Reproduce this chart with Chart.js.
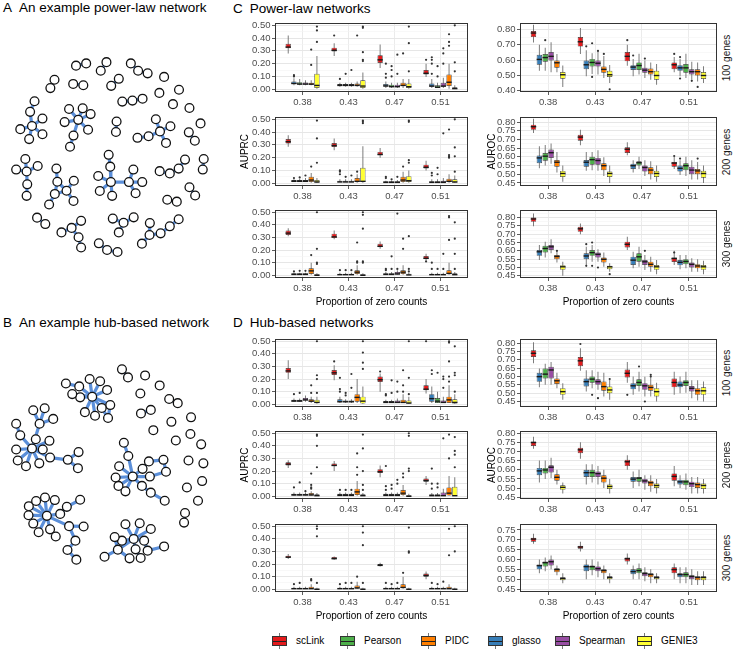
<!DOCTYPE html>
<html>
<head>
<meta charset="utf-8">
<script src="https://cdn.jsdelivr.net/npm/chart.js@4.4.1/dist/chart.umd.min.js"></script>
<style>
  body { margin: 0; background: #fff; font-family: "Liberation Sans", Arial, Helvetica, sans-serif; }
  #page { position: relative; width: 734px; height: 651px; overflow: hidden; }
  #page canvas { position: absolute; }
  .title { position: absolute; font-size: 13.5px; line-height: 16px; color: #000; white-space: nowrap; }
  .title span { margin-right: 7px; }
  .strip { position: absolute; width: 80px; height: 12px; line-height: 12px; font-size: 10px; text-align: center;
           transform: rotate(-90deg); white-space: nowrap; color: #1a1a1a; }
  .lk { position: absolute; top: 633px; width: 15px; height: 16px; }
  .lk::before { content: ""; position: absolute; left: 7px; top: 0; width: 1px; height: 16px; background: #777; }
  .lk i { position: absolute; left: 0; top: 3px; width: 13px; height: 8px; border: 1px solid #333; }
  .lk i::after { content: ""; position: absolute; left: 0; right: 0; top: 3.5px; height: 1px; background: #222; }
  .lt { position: absolute; top: 635px; font-size: 10px; line-height: 12px; color: #000; white-space: nowrap; }
</style>
</head>
<body>
<div id="page">
  <div class="title" style="left:3px;top:0px"><span>A</span>An example power-law network</div>
  <div class="title" style="left:3px;top:315px"><span>B</span>An example hub-based network</div>
  <div class="title" style="left:233px;top:1px"><span>C</span>Power-law networks</div>
  <div class="title" style="left:233px;top:315px"><span>D</span>Hub-based networks</div>
</div>
<script>
// methods in the order the boxes are dodged inside each group
const methods = ["scLink", "glasso", "Pearson", "Spearman", "PIDC", "GENIE3"];
const methodColors = ["#E41A1C", "#377EB8", "#4DAF4A", "#984EA3", "#FF7F00", "#FFFF33"];
const legendOrder = ["scLink", "Pearson", "PIDC", "glasso", "Spearman", "GENIE3"];
const zeroProps = ["0.38", "0.43", "0.47", "0.51"];

const prcTicks = [0, 0.1, 0.2, 0.3, 0.4, 0.5];
const rocTicksWide = [0.4, 0.5, 0.6, 0.7, 0.8];
const rocTicks = [0.45, 0.5, 0.55, 0.6, 0.65, 0.7, 0.75, 0.8];
const rocTicksShort = [0.45, 0.5, 0.55, 0.6, 0.65, 0.7, 0.75];

// one row per (proportion, method): [lower whisker, q1, median, q3, upper whisker]
// outliers: [proportion index, method index, value]

// C, 100 genes, AUPRC
const cPrc100 = [
  [0.28, 0.32, 0.335, 0.355, 0.42], [0.03, 0.04, 0.05, 0.06, 0.085], [0.03, 0.04, 0.045, 0.055, 0.08],
  [0.03, 0.038, 0.045, 0.052, 0.07], [0.03, 0.035, 0.045, 0.05, 0.07], [0.0, 0.01, 0.035, 0.12, 0.26],
  [0.26, 0.295, 0.31, 0.325, 0.36], [0.02, 0.03, 0.035, 0.04, 0.05], [0.02, 0.03, 0.035, 0.04, 0.05],
  [0.02, 0.03, 0.035, 0.04, 0.05], [0.02, 0.03, 0.035, 0.045, 0.06], [0.0, 0.01, 0.03, 0.07, 0.13],
  [0.165, 0.205, 0.235, 0.265, 0.35], [0.01, 0.025, 0.03, 0.04, 0.06], [0.01, 0.02, 0.025, 0.035, 0.05],
  [0.01, 0.02, 0.025, 0.035, 0.05], [0.01, 0.025, 0.035, 0.05, 0.08], [0.0, 0.01, 0.025, 0.045, 0.08],
  [0.095, 0.115, 0.13, 0.15, 0.2], [0.01, 0.02, 0.03, 0.045, 0.08], [0.01, 0.015, 0.02, 0.03, 0.05],
  [0.01, 0.02, 0.03, 0.05, 0.09], [0.0, 0.025, 0.06, 0.115, 0.2], [0.0, 0.005, 0.01, 0.015, 0.03]
];
const cPrc100Out = [
  [0, 1, 0.11], [0, 1, 0.1], [0, 4, 0.31], [0, 4, 0.19], [0, 5, 0.37], [0, 5, 0.46], [0, 5, 0.49],
  [1, 0, 0.42], [1, 1, 0.08], [1, 2, 0.12], [1, 3, 0.15], [1, 4, 0.42], [1, 5, 0.22], [1, 5, 0.23],
  [1, 5, 0.29], [1, 5, 0.48], [1, 5, 0.49], [2, 1, 0.09], [2, 1, 0.12], [2, 1, 0.2], [2, 2, 0.1],
  [2, 2, 0.15], [2, 2, 0.18], [2, 3, 0.12], [2, 3, 0.27], [2, 4, 0.28], [2, 5, 0.14], [2, 5, 0.36],
  [2, 5, 0.49], [3, 0, 0.23], [3, 1, 0.12], [3, 1, 0.2], [3, 1, 0.23], [3, 1, 0.25], [3, 2, 0.1],
  [3, 2, 0.18], [3, 3, 0.2], [3, 3, 0.28], [3, 3, 0.32], [3, 4, 0.34], [3, 4, 0.37], [3, 4, 0.43],
  [3, 5, 0.14], [3, 5, 0.21], [3, 5, 0.5]
];

// C, 100 genes, AUROC
const cRoc100 = [
  [0.715, 0.75, 0.772, 0.79, 0.83], [0.53, 0.57, 0.6, 0.635, 0.7], [0.53, 0.59, 0.612, 0.64, 0.68],
  [0.52, 0.597, 0.62, 0.653, 0.716], [0.52, 0.55, 0.578, 0.597, 0.64], [0.425, 0.478, 0.5, 0.522, 0.565],
  [0.64, 0.688, 0.715, 0.75, 0.81], [0.495, 0.54, 0.565, 0.597, 0.665], [0.51, 0.558, 0.58, 0.608, 0.645],
  [0.506, 0.558, 0.575, 0.597, 0.653], [0.484, 0.518, 0.535, 0.558, 0.626], [0.45, 0.49, 0.5, 0.53, 0.568],
  [0.563, 0.592, 0.62, 0.653, 0.7], [0.495, 0.535, 0.55, 0.567, 0.608], [0.506, 0.535, 0.56, 0.585, 0.642],
  [0.484, 0.518, 0.53, 0.55, 0.597], [0.472, 0.506, 0.52, 0.545, 0.585], [0.44, 0.472, 0.495, 0.53, 0.575],
  [0.52, 0.54, 0.565, 0.585, 0.62], [0.495, 0.53, 0.545, 0.567, 0.608], [0.484, 0.518, 0.545, 0.574, 0.642],
  [0.472, 0.506, 0.52, 0.54, 0.59], [0.46, 0.5, 0.52, 0.54, 0.585], [0.45, 0.477, 0.495, 0.522, 0.56]
];
const cRoc100Out = [
  [0, 2, 0.73], [1, 1, 0.69], [1, 2, 0.71], [1, 2, 0.49], [1, 3, 0.66], [1, 4, 0.64], [1, 5, 0.41],
  [2, 0, 0.73], [2, 1, 0.63], [2, 3, 0.61], [3, 0, 0.64], [3, 1, 0.62], [3, 1, 0.48], [3, 3, 0.465], [3, 4, 0.425]
];

// C, 200 genes, AUPRC
const cPrc200 = [
  [0.285, 0.31, 0.33, 0.345, 0.375], [0.01, 0.015, 0.02, 0.025, 0.03], [0.01, 0.015, 0.02, 0.025, 0.035],
  [0.01, 0.015, 0.02, 0.025, 0.04], [0.0, 0.01, 0.03, 0.05, 0.08], [0.0, 0.005, 0.015, 0.025, 0.04],
  [0.258, 0.284, 0.3, 0.315, 0.35], [0.01, 0.012, 0.015, 0.02, 0.03], [0.01, 0.012, 0.015, 0.02, 0.03],
  [0.01, 0.012, 0.015, 0.02, 0.03], [0.0, 0.01, 0.02, 0.04, 0.07], [0.0, 0.01, 0.02, 0.12, 0.29],
  [0.2, 0.218, 0.23, 0.245, 0.275], [0.008, 0.01, 0.012, 0.015, 0.02], [0.008, 0.01, 0.012, 0.015, 0.02],
  [0.008, 0.01, 0.012, 0.015, 0.025], [0.0, 0.01, 0.03, 0.05, 0.09], [0.0, 0.01, 0.025, 0.055, 0.1],
  [0.1, 0.115, 0.13, 0.145, 0.175], [0.005, 0.01, 0.012, 0.015, 0.03], [0.005, 0.01, 0.012, 0.015, 0.03],
  [0.005, 0.008, 0.012, 0.02, 0.04], [0.0, 0.01, 0.02, 0.035, 0.07], [0.0, 0.005, 0.015, 0.03, 0.06]
];
const cPrc200Out = [
  [0, 1, 0.04], [0, 2, 0.045], [0, 3, 0.06], [0, 4, 0.13], [0, 5, 0.16], [0, 5, 0.35], [0, 5, 0.49],
  [1, 1, 0.07], [1, 1, 0.09], [1, 1, 0.1], [1, 2, 0.05], [1, 3, 0.06], [1, 4, 0.09], [1, 5, 0.47],
  [1, 5, 0.48], [1, 5, 0.49], [2, 1, 0.04], [2, 1, 0.05], [2, 2, 0.03], [2, 3, 0.05], [2, 4, 0.13],
  [2, 5, 0.16], [2, 5, 0.18], [2, 5, 0.48], [2, 5, 0.49], [3, 1, 0.06], [3, 1, 0.08], [3, 2, 0.07],
  [3, 2, 0.12], [3, 3, 0.39], [3, 4, 0.2], [3, 4, 0.21], [3, 4, 0.22], [3, 4, 0.42], [3, 5, 0.09],
  [3, 5, 0.21], [3, 5, 0.28], [3, 5, 0.5]
];

// C, 200 genes, AUROC
const cRoc200 = [
  [0.737, 0.756, 0.77, 0.786, 0.82], [0.535, 0.563, 0.59, 0.608, 0.662], [0.55, 0.578, 0.6, 0.622, 0.668],
  [0.56, 0.594, 0.62, 0.642, 0.677], [0.51, 0.543, 0.565, 0.582, 0.628], [0.456, 0.484, 0.5, 0.519, 0.55],
  [0.667, 0.693, 0.71, 0.727, 0.757], [0.52, 0.543, 0.565, 0.582, 0.628], [0.523, 0.555, 0.58, 0.6, 0.628],
  [0.52, 0.555, 0.575, 0.594, 0.638], [0.49, 0.523, 0.545, 0.563, 0.598], [0.45, 0.484, 0.5, 0.515, 0.55],
  [0.61, 0.622, 0.64, 0.655, 0.685], [0.51, 0.53, 0.545, 0.56, 0.58], [0.53, 0.55, 0.562, 0.575, 0.6],
  [0.49, 0.515, 0.535, 0.55, 0.58], [0.47, 0.5, 0.52, 0.54, 0.575], [0.456, 0.484, 0.5, 0.52, 0.55],
  [0.53, 0.543, 0.56, 0.57, 0.6], [0.495, 0.515, 0.53, 0.55, 0.58], [0.49, 0.523, 0.545, 0.563, 0.6],
  [0.47, 0.5, 0.52, 0.543, 0.58], [0.47, 0.5, 0.515, 0.53, 0.57], [0.45, 0.48, 0.5, 0.52, 0.55]
];
const cRoc200Out = [[3, 0, 0.605], [3, 1, 0.59], [3, 4, 0.59]];

// C, 300 genes, AUPRC
const cPrc300 = [
  [0.31, 0.32, 0.34, 0.355, 0.374], [0.005, 0.01, 0.012, 0.015, 0.02], [0.005, 0.01, 0.012, 0.015, 0.02],
  [0.005, 0.01, 0.012, 0.015, 0.02], [0.0, 0.01, 0.04, 0.055, 0.1], [0.0, 0.003, 0.005, 0.01, 0.015],
  [0.285, 0.295, 0.31, 0.33, 0.355], [0.005, 0.008, 0.01, 0.012, 0.02], [0.005, 0.008, 0.01, 0.012, 0.02],
  [0.005, 0.008, 0.01, 0.012, 0.02], [0.0, 0.01, 0.03, 0.04, 0.08], [0.0, 0.003, 0.005, 0.01, 0.015],
  [0.21, 0.224, 0.235, 0.25, 0.268], [0.005, 0.01, 0.012, 0.015, 0.025], [0.005, 0.01, 0.012, 0.015, 0.025],
  [0.005, 0.01, 0.015, 0.025, 0.04], [0.0, 0.01, 0.03, 0.04, 0.08], [0.0, 0.005, 0.008, 0.012, 0.02],
  [0.118, 0.126, 0.14, 0.153, 0.17], [0.005, 0.008, 0.01, 0.012, 0.02], [0.005, 0.008, 0.01, 0.012, 0.02],
  [0.005, 0.008, 0.01, 0.012, 0.02], [0.0, 0.01, 0.02, 0.04, 0.1], [0.0, 0.005, 0.01, 0.015, 0.025]
];
const cPrc300Out = [
  [0, 1, 0.03], [0, 2, 0.035], [0, 3, 0.035], [0, 4, 0.16], [0, 5, 0.09], [0, 5, 0.1], [0, 5, 0.21],
  [0, 5, 0.5], [1, 1, 0.04], [1, 2, 0.04], [1, 3, 0.04], [1, 4, 0.1], [1, 4, 0.11], [1, 4, 0.26],
  [1, 5, 0.1], [1, 5, 0.11], [1, 5, 0.37], [1, 5, 0.48], [1, 5, 0.5], [2, 1, 0.05], [2, 1, 0.04],
  [2, 2, 0.15], [2, 2, 0.05], [2, 3, 0.05], [2, 3, 0.49], [2, 4, 0.21], [2, 4, 0.29], [2, 5, 0.03],
  [2, 5, 0.05], [2, 5, 0.31], [3, 0, 0.11], [3, 1, 0.05], [3, 1, 0.1], [3, 2, 0.05], [3, 3, 0.05],
  [3, 3, 0.17], [3, 4, 0.28], [3, 4, 0.46], [3, 4, 0.47], [3, 5, 0.05], [3, 5, 0.17], [3, 5, 0.29],
  [3, 5, 0.42]
];

// C, 300 genes, AUROC
const cRoc300 = [
  [0.748, 0.774, 0.787, 0.8, 0.824], [0.545, 0.57, 0.59, 0.605, 0.635], [0.56, 0.59, 0.61, 0.63, 0.655],
  [0.585, 0.605, 0.62, 0.635, 0.67], [0.53, 0.55, 0.562, 0.575, 0.605], [0.45, 0.486, 0.5, 0.514, 0.535],
  [0.7, 0.714, 0.728, 0.744, 0.764], [0.515, 0.55, 0.565, 0.585, 0.625], [0.535, 0.57, 0.585, 0.605, 0.635],
  [0.535, 0.56, 0.575, 0.59, 0.61], [0.505, 0.53, 0.545, 0.56, 0.59], [0.475, 0.49, 0.5, 0.51, 0.525],
  [0.605, 0.62, 0.635, 0.655, 0.685], [0.495, 0.515, 0.54, 0.565, 0.595], [0.505, 0.535, 0.56, 0.585, 0.625],
  [0.485, 0.515, 0.53, 0.545, 0.575], [0.475, 0.505, 0.515, 0.535, 0.565], [0.46, 0.486, 0.5, 0.515, 0.545],
  [0.515, 0.533, 0.55, 0.56, 0.6], [0.49, 0.513, 0.527, 0.545, 0.575], [0.495, 0.52, 0.532, 0.55, 0.575],
  [0.475, 0.5, 0.515, 0.53, 0.555], [0.475, 0.495, 0.505, 0.52, 0.55], [0.46, 0.486, 0.5, 0.515, 0.54]
];
const cRoc300Out = [
  [0, 4, 0.6], [1, 1, 0.64], [1, 1, 0.51], [1, 2, 0.65], [1, 2, 0.51], [1, 3, 0.5], [1, 5, 0.46],
  [2, 3, 0.6], [3, 0, 0.59]
];

// D, 100 genes, AUPRC
const dPrc100 = [
  [0.2, 0.249, 0.27, 0.288, 0.35], [0.02, 0.025, 0.03, 0.035, 0.045], [0.02, 0.025, 0.03, 0.035, 0.045],
  [0.02, 0.03, 0.04, 0.05, 0.07], [0.01, 0.02, 0.03, 0.04, 0.06], [0.0, 0.01, 0.02, 0.035, 0.06],
  [0.19, 0.233, 0.255, 0.272, 0.31], [0.01, 0.02, 0.025, 0.04, 0.06], [0.01, 0.02, 0.025, 0.03, 0.04],
  [0.01, 0.02, 0.025, 0.03, 0.04], [0.01, 0.02, 0.06, 0.08, 0.2], [0.0, 0.005, 0.03, 0.06, 0.14],
  [0.1, 0.176, 0.2, 0.22, 0.245], [0.01, 0.015, 0.02, 0.025, 0.035], [0.01, 0.015, 0.02, 0.025, 0.035],
  [0.01, 0.015, 0.02, 0.03, 0.045], [0.01, 0.01, 0.02, 0.035, 0.08], [0.0, 0.005, 0.015, 0.03, 0.06],
  [0.085, 0.111, 0.125, 0.15, 0.2], [0.01, 0.02, 0.05, 0.08, 0.14], [0.01, 0.01, 0.03, 0.05, 0.1],
  [0.01, 0.01, 0.02, 0.03, 0.06], [0.01, 0.01, 0.04, 0.06, 0.15], [0.0, 0.005, 0.02, 0.04, 0.08]
];
const dPrc100Out = [
  [0, 1, 0.08], [0, 2, 0.09], [0, 4, 0.15], [0, 4, 0.09], [0, 5, 0.09], [0, 5, 0.2], [0, 5, 0.23],
  [0, 5, 0.5], [1, 0, 0.34], [1, 1, 0.1], [1, 1, 0.12], [1, 1, 0.21], [1, 2, 0.07], [1, 2, 0.09],
  [1, 3, 0.13], [1, 3, 0.24], [1, 5, 0.28], [1, 5, 0.33], [1, 5, 0.41], [1, 5, 0.5], [2, 0, 0.26],
  [2, 1, 0.07], [2, 1, 0.08], [2, 2, 0.09], [2, 2, 0.19], [2, 3, 0.1], [2, 3, 0.18], [2, 4, 0.1],
  [2, 4, 0.15], [2, 4, 0.27], [2, 5, 0.08], [2, 5, 0.21], [2, 5, 0.5], [3, 0, 0.5], [3, 1, 0.24],
  [3, 1, 0.27], [3, 2, 0.25], [3, 3, 0.13], [3, 3, 0.2], [3, 3, 0.22], [3, 4, 0.18], [3, 4, 0.22],
  [3, 4, 0.34], [3, 4, 0.49], [3, 4, 0.5], [3, 5, 0.1], [3, 5, 0.23], [3, 5, 0.25], [3, 5, 0.46]
];

// D, 100 genes, AUROC
const dRoc100 = [
  [0.68, 0.717, 0.735, 0.757, 0.806], [0.535, 0.568, 0.595, 0.622, 0.648], [0.55, 0.588, 0.61, 0.648, 0.677],
  [0.55, 0.588, 0.635, 0.658, 0.687], [0.53, 0.555, 0.57, 0.588, 0.622], [0.46, 0.49, 0.505, 0.53, 0.56],
  [0.634, 0.662, 0.69, 0.717, 0.77], [0.51, 0.54, 0.565, 0.588, 0.638], [0.53, 0.563, 0.58, 0.6, 0.638],
  [0.52, 0.55, 0.565, 0.583, 0.628], [0.48, 0.515, 0.535, 0.57, 0.622], [0.46, 0.5, 0.515, 0.54, 0.58],
  [0.563, 0.594, 0.615, 0.642, 0.687], [0.49, 0.523, 0.54, 0.56, 0.6], [0.51, 0.543, 0.56, 0.583, 0.628],
  [0.48, 0.52, 0.54, 0.56, 0.598], [0.48, 0.515, 0.53, 0.55, 0.598], [0.45, 0.48, 0.505, 0.53, 0.563],
  [0.49, 0.535, 0.56, 0.588, 0.628], [0.5, 0.535, 0.545, 0.57, 0.6], [0.503, 0.543, 0.56, 0.578, 0.628],
  [0.47, 0.51, 0.525, 0.543, 0.578], [0.456, 0.49, 0.51, 0.53, 0.578], [0.45, 0.49, 0.51, 0.535, 0.57]
];
const dRoc100Out = [
  [1, 0, 0.795], [1, 2, 0.49], [1, 3, 0.47], [1, 5, 0.585], [2, 0, 0.49], [2, 2, 0.66], [2, 3, 0.45],
  [2, 4, 0.6], [2, 4, 0.61]
];

// D, 200 genes, AUPRC
const dPrc200 = [
  [0.225, 0.245, 0.26, 0.27, 0.285], [0.005, 0.01, 0.015, 0.02, 0.03], [0.005, 0.01, 0.015, 0.02, 0.03],
  [0.005, 0.01, 0.015, 0.02, 0.03], [0.005, 0.01, 0.015, 0.025, 0.04], [0.0, 0.005, 0.01, 0.015, 0.025],
  [0.2, 0.24, 0.25, 0.26, 0.28], [0.005, 0.01, 0.012, 0.02, 0.03], [0.005, 0.01, 0.012, 0.02, 0.03],
  [0.005, 0.01, 0.012, 0.02, 0.03], [0.0, 0.01, 0.04, 0.06, 0.12], [0.0, 0.005, 0.01, 0.015, 0.025],
  [0.15, 0.185, 0.2, 0.215, 0.245], [0.005, 0.01, 0.012, 0.02, 0.03], [0.005, 0.01, 0.012, 0.02, 0.03],
  [0.005, 0.01, 0.012, 0.02, 0.03], [0.0, 0.01, 0.03, 0.05, 0.09], [0.0, 0.003, 0.005, 0.01, 0.02],
  [0.09, 0.115, 0.13, 0.14, 0.16], [0.005, 0.008, 0.01, 0.015, 0.025], [0.005, 0.008, 0.01, 0.015, 0.025],
  [0.005, 0.005, 0.01, 0.03, 0.06], [0.0, 0.005, 0.03, 0.07, 0.16], [0.0, 0.005, 0.01, 0.075, 0.15]
];
const dPrc200Out = [
  [0, 1, 0.07], [0, 2, 0.11], [0, 3, 0.04], [0, 4, 0.06], [0, 4, 0.07], [0, 4, 0.09], [0, 4, 0.18],
  [0, 5, 0.23], [0, 5, 0.4], [0, 5, 0.48], [0, 5, 0.49], [1, 1, 0.05], [1, 2, 0.05], [1, 3, 0.05],
  [1, 4, 0.17], [1, 4, 0.23], [1, 4, 0.34], [1, 5, 0.05], [1, 5, 0.09], [1, 5, 0.2], [1, 5, 0.38],
  [1, 5, 0.49], [2, 1, 0.05], [2, 1, 0.08], [2, 1, 0.24], [2, 2, 0.06], [2, 2, 0.09], [2, 3, 0.1],
  [2, 3, 0.13], [2, 4, 0.15], [2, 4, 0.18], [2, 5, 0.2], [2, 5, 0.22], [2, 5, 0.48], [2, 5, 0.5],
  [3, 1, 0.06], [3, 1, 0.1], [3, 1, 0.22], [3, 2, 0.07], [3, 2, 0.1], [3, 3, 0.46], [3, 4, 0.3],
  [3, 4, 0.49], [3, 5, 0.23], [3, 5, 0.33], [3, 5, 0.36], [3, 5, 0.47]
];

// D, 200 genes, AUROC
const dRoc200 = [
  [0.715, 0.73, 0.745, 0.755, 0.78], [0.53, 0.57, 0.59, 0.61, 0.65], [0.55, 0.58, 0.595, 0.61, 0.65],
  [0.555, 0.585, 0.61, 0.625, 0.665], [0.52, 0.54, 0.555, 0.575, 0.6], [0.47, 0.49, 0.5, 0.515, 0.53],
  [0.66, 0.69, 0.705, 0.72, 0.75], [0.52, 0.56, 0.58, 0.6, 0.63], [0.53, 0.56, 0.58, 0.6, 0.63],
  [0.52, 0.56, 0.575, 0.59, 0.62], [0.5, 0.53, 0.55, 0.57, 0.6], [0.47, 0.495, 0.505, 0.52, 0.55],
  [0.6, 0.62, 0.64, 0.655, 0.68], [0.5, 0.535, 0.545, 0.56, 0.59], [0.51, 0.535, 0.55, 0.56, 0.6],
  [0.49, 0.525, 0.535, 0.55, 0.57], [0.48, 0.51, 0.525, 0.54, 0.57], [0.47, 0.5, 0.51, 0.525, 0.55],
  [0.51, 0.54, 0.56, 0.58, 0.62], [0.5, 0.52, 0.53, 0.545, 0.57], [0.49, 0.515, 0.53, 0.545, 0.58],
  [0.47, 0.505, 0.52, 0.535, 0.56], [0.47, 0.5, 0.515, 0.53, 0.56], [0.47, 0.495, 0.51, 0.525, 0.55]
];
const dRoc200Out = [];

// D, 300 genes, AUPRC
const dPrc300 = [
  [0.24, 0.25, 0.26, 0.265, 0.28], [0.005, 0.008, 0.01, 0.012, 0.02], [0.005, 0.008, 0.01, 0.012, 0.02],
  [0.005, 0.008, 0.01, 0.012, 0.02], [0.0, 0.005, 0.01, 0.02, 0.04], [0.0, 0.003, 0.005, 0.008, 0.012],
  [0.235, 0.24, 0.248, 0.255, 0.26], [0.005, 0.008, 0.01, 0.012, 0.02], [0.005, 0.008, 0.01, 0.012, 0.02],
  [0.005, 0.008, 0.01, 0.012, 0.02], [0.0, 0.01, 0.015, 0.03, 0.06], [0.0, 0.003, 0.005, 0.008, 0.012],
  [0.18, 0.19, 0.195, 0.2, 0.21], [0.005, 0.008, 0.01, 0.012, 0.02], [0.005, 0.008, 0.01, 0.012, 0.02],
  [0.005, 0.008, 0.01, 0.012, 0.02], [0.0, 0.01, 0.02, 0.04, 0.1], [0.0, 0.003, 0.005, 0.008, 0.012],
  [0.08, 0.1, 0.115, 0.125, 0.14], [0.005, 0.008, 0.01, 0.012, 0.02], [0.005, 0.008, 0.01, 0.012, 0.02],
  [0.005, 0.008, 0.01, 0.012, 0.02], [0.0, 0.005, 0.01, 0.02, 0.04], [0.0, 0.003, 0.005, 0.008, 0.012]
];
const dPrc300Out = [
  [0, 1, 0.04], [0, 2, 0.05], [0, 4, 0.08], [0, 4, 0.07], [0, 5, 0.05], [0, 5, 0.42], [0, 5, 0.48],
  [0, 5, 0.5], [1, 1, 0.04], [1, 2, 0.05], [1, 3, 0.05], [1, 4, 0.1], [1, 5, 0.05], [1, 5, 0.35],
  [1, 5, 0.45], [1, 5, 0.5], [2, 1, 0.05], [2, 2, 0.04], [2, 3, 0.05], [2, 4, 0.13], [2, 5, 0.29],
  [2, 5, 0.3], [2, 5, 0.49], [3, 1, 0.05], [3, 2, 0.04], [3, 3, 0.06], [3, 4, 0.27], [3, 4, 0.48],
  [3, 5, 0.3], [3, 5, 0.5]
];

// D, 300 genes, AUROC
const dRoc300 = [
  [0.68, 0.69, 0.7, 0.71, 0.73], [0.53, 0.55, 0.565, 0.575, 0.6], [0.54, 0.565, 0.58, 0.59, 0.61],
  [0.55, 0.57, 0.585, 0.6, 0.62], [0.52, 0.535, 0.545, 0.555, 0.57], [0.48, 0.495, 0.5, 0.51, 0.53],
  [0.64, 0.655, 0.66, 0.67, 0.69], [0.5, 0.54, 0.56, 0.575, 0.6], [0.52, 0.545, 0.56, 0.57, 0.6],
  [0.51, 0.54, 0.55, 0.565, 0.59], [0.5, 0.53, 0.54, 0.55, 0.57], [0.48, 0.5, 0.505, 0.515, 0.53],
  [0.575, 0.59, 0.6, 0.61, 0.63], [0.5, 0.525, 0.535, 0.55, 0.57], [0.5, 0.53, 0.54, 0.555, 0.58],
  [0.49, 0.515, 0.525, 0.535, 0.56], [0.48, 0.51, 0.52, 0.53, 0.55], [0.48, 0.5, 0.505, 0.515, 0.53],
  [0.5, 0.53, 0.545, 0.56, 0.58], [0.48, 0.51, 0.52, 0.53, 0.56], [0.48, 0.51, 0.52, 0.535, 0.56],
  [0.47, 0.5, 0.51, 0.52, 0.55], [0.47, 0.495, 0.505, 0.515, 0.54], [0.47, 0.495, 0.505, 0.515, 0.54]
];
const dRoc300Out = [];

// example networks: node layout coordinates and edges as node index pairs
const powerLawNodes = [
  [222, 187], [254, 180], [300, 203], [318, 176], [395, 180], [418, 203], [448, 211], [154, 231], [141, 257],
  [213, 244], [245, 248], [333, 250], [357, 228], [500, 222], [547, 262], [485, 272], [368, 299], [400, 296],
  [432, 290], [528, 307], [580, 319], [615, 367], [578, 395], [597, 421], [350, 361], [348, 394],
  [83, 375], [77, 331], [91, 298], [116, 352], [46, 385], [116, 401], [74, 416],
  [229, 356], [200, 322], [243, 320], [268, 338], [186, 363], [260, 387], [214, 405], [203, 440],
  [487, 392], [474, 354], [520, 376], [506, 428], [451, 407], [416, 412],
  [66, 517], [62, 478], [101, 500], [33, 511], [68, 557], [66, 593],
  [160, 508], [163, 549], [192, 577], [215, 546], [214, 609], [155, 587], [137, 620],
  [332, 550], [325, 465], [330, 502], [292, 531], [297, 578], [336, 593], [389, 550], [403, 511], [431, 550], [410, 585],
  [486, 516], [518, 523], [546, 508], [566, 480], [625, 478], [622, 511], [580, 566], [598, 592], [510, 605], [540, 611],
  [99, 661], [125, 681], [176, 707], [208, 693], [238, 671], [230, 722], [238, 754],
  [338, 664], [372, 677], [404, 660], [357, 707],
  [455, 678], [454, 715], [430, 742], [489, 710], [518, 688], [546, 666],
  [294, 741], [320, 762], [353, 768]
];
const powerLawEdges = [
  [0, 1], [2, 3], [4, 5], [5, 6], [7, 8], [9, 10], [11, 12], [16, 17], [17, 18], [22, 23], [24, 25],
  [26, 27], [27, 28], [26, 29], [26, 30], [26, 31], [26, 32],
  [33, 34], [33, 35], [33, 36], [33, 37], [33, 38], [33, 39], [39, 40],
  [41, 42], [41, 43], [41, 44], [41, 45], [45, 46],
  [47, 48], [47, 49], [47, 50], [47, 51], [51, 52],
  [53, 54], [54, 55], [55, 56], [55, 57], [54, 58], [58, 59], [58, 55],
  [61, 62], [62, 60], [60, 63], [60, 64], [60, 65], [60, 66], [66, 67], [66, 68], [66, 69],
  [70, 71], [71, 72], [72, 73], [74, 75], [76, 77], [78, 79], [80, 81],
  [82, 83], [83, 84], [83, 85], [85, 86], [87, 88], [88, 89], [88, 90],
  [91, 92], [92, 93], [92, 94], [94, 95], [95, 96], [97, 98], [98, 99]
];

const hubNodes = [
  [273, 236], [265, 181], [298, 188], [320, 215], [330, 262], [303, 271], [323, 302], [282, 295], [250, 284],
  [235, 238], [210, 228], [232, 204], [190, 195],
  [83, 397], [33, 320], [46, 356], [33, 400], [38, 434], [64, 452], [106, 443], [117, 400], [95, 368],
  [138, 373], [107, 320], [87, 278], [123, 272], [150, 305], [140, 425], [196, 432], [230, 408], [228, 458],
  [401, 484], [373, 379], [387, 420], [358, 452], [347, 487], [356, 513], [378, 530], [430, 513], [458, 534],
  [502, 559], [455, 484], [432, 460], [452, 437], [498, 432], [506, 469],
  [130, 606], [73, 576], [96, 560], [124, 549], [155, 557], [72, 604], [87, 630], [104, 657], [140, 648],
  [158, 670], [172, 600], [193, 578], [235, 556], [200, 638], [246, 639], [220, 683], [195, 712], [223, 742],
  [404, 678], [378, 632], [423, 629], [458, 647], [437, 683], [367, 683], [344, 672], [354, 711], [312, 733],
  [391, 738], [426, 737], [410, 710], [448, 714], [500, 701],
  [367, 151], [386, 176], [440, 170], [486, 201], [425, 226], [516, 243], [543, 256], [427, 288], [458, 277],
  [585, 300], [523, 314], [466, 340], [583, 352], [537, 372], [617, 384], [577, 434], [624, 443], [620, 498],
  [572, 518], [607, 559], [566, 597], [563, 627]
];
const hubEdges = [
  [0, 1], [0, 2], [0, 3], [0, 4], [0, 5], [0, 7], [0, 8], [0, 9], [0, 11], [4, 6], [5, 6], [11, 12], [10, 0],
  [13, 15], [15, 14], [13, 16], [13, 17], [13, 18], [13, 19], [13, 20], [13, 21], [13, 22], [13, 23],
  [23, 24], [23, 25], [23, 26], [13, 27], [27, 28], [28, 29], [28, 30],
  [32, 33], [33, 31], [31, 34], [31, 35], [31, 36], [31, 37], [31, 38], [38, 39], [39, 40], [31, 41],
  [31, 42], [42, 43], [43, 44], [44, 45], [45, 41],
  [46, 47], [46, 48], [46, 49], [46, 50], [46, 51], [46, 52], [46, 53], [46, 54], [46, 56], [46, 59],
  [56, 57], [57, 58], [59, 60], [59, 61], [61, 62], [62, 63], [54, 55],
  [64, 65], [64, 66], [64, 67], [64, 68], [64, 69], [64, 75], [64, 71], [71, 72], [71, 73], [70, 71],
  [75, 74], [68, 76], [76, 77],
  [78, 79], [83, 84], [85, 86], [98, 99]
];

// ---------- layout ----------
const FONT = '"Liberation Sans", Arial, Helvetica, sans-serif';
Chart.defaults.font.family = FONT;
const GROUP_SPAN = 0.75;            // share of a category taken by the six dodged boxes
const COLS = [{left: 275, width: 193}, {left: 520, width: 197}];
const ROWS = [[23, 92], [117, 186], [210, 278], [339, 407], [431, 499], [524, 592]];
const Y_AXIS_W = 43, PAD_TOP = 9, PAD_RIGHT = 4;

const panels = [
  {boxes: cPrc100, out: cPrc100Out, ticks: prcTicks, min: -0.022, max: 0.518, col: 0, row: 0},
  {boxes: cRoc100, out: cRoc100Out, ticks: rocTicksWide, min: 0.392, max: 0.842, col: 1, row: 0, strip: "100 genes"},
  {boxes: cPrc200, out: cPrc200Out, ticks: prcTicks, min: -0.022, max: 0.518, col: 0, row: 1},
  {boxes: cRoc200, out: cRoc200Out, ticks: rocTicks, min: 0.432, max: 0.83, col: 1, row: 1, strip: "200 genes"},
  {boxes: cPrc300, out: cPrc300Out, ticks: prcTicks, min: -0.022, max: 0.518, col: 0, row: 2},
  {boxes: cRoc300, out: cRoc300Out, ticks: rocTicks, min: 0.437, max: 0.845, col: 1, row: 2, strip: "300 genes"},
  {boxes: dPrc100, out: dPrc100Out, ticks: prcTicks, min: -0.022, max: 0.518, col: 0, row: 3},
  {boxes: dRoc100, out: dRoc100Out, ticks: rocTicks, min: 0.417, max: 0.825, col: 1, row: 3, strip: "100 genes"},
  {boxes: dPrc200, out: dPrc200Out, ticks: prcTicks, min: -0.022, max: 0.518, col: 0, row: 4},
  {boxes: dRoc200, out: dRoc200Out, ticks: rocTicks, min: 0.44, max: 0.812, col: 1, row: 4, strip: "200 genes"},
  {boxes: dPrc300, out: dPrc300Out, ticks: prcTicks, min: -0.022, max: 0.518, col: 0, row: 5},
  {boxes: dRoc300, out: dRoc300Out, ticks: rocTicksShort, min: 0.435, max: 0.78, col: 1, row: 5, strip: "300 genes"}
];

const page = document.getElementById("page");

function addCanvas(left, top, width, height) {
  const c = document.createElement("canvas");
  c.width = width;
  c.height = height;
  c.style.left = left + "px";
  c.style.top = top + "px";
  page.appendChild(c);
  return c;
}

// panel border on top of everything
const framePlugin = {
  id: "frame",
  afterDraw(chart) {
    const {ctx, chartArea: a} = chart;
    ctx.save();
    ctx.strokeStyle = "#333";
    ctx.lineWidth = 1;
    ctx.strokeRect(a.left + 0.5, a.top + 0.5, a.right - a.left - 1, a.bottom - a.top - 1);
    ctx.restore();
  }
};

function withMinor(major, min, max) {
  const step = major[1] - major[0];
  const all = major.map((v) => ({value: v, minor: false}));
  for (let i = -1; i < major.length; i++) {
    const v = major[0] + (i + 0.5) * step;
    if (v >= min && v <= max) all.push({value: v, minor: true});
  }
  return all.sort((a, b) => a.value - b.value);
}

function buildBoxChart(p) {
  const [top, bottom] = ROWS[p.row];
  const col = COLS[p.col];
  const isBottom = p.row === 2 || p.row === 5;
  const isMiddle = p.row === 1 || p.row === 4;
  const xH = isBottom ? 32 : 16;
  const canvas = addCanvas(col.left - Y_AXIS_W, top - PAD_TOP,
    Y_AXIS_W + col.width + PAD_RIGHT, PAD_TOP + (bottom - top) + xH);

  const datasets = [];
  methods.forEach((name, m) => {
    const rows = zeroProps.map((_, g) => p.boxes[g * methods.length + m]);
    const common = {stack: name, categoryPercentage: GROUP_SPAN, inflateAmount: 0};
    datasets.push(Object.assign({
      label: name + " whisker", order: 4,
      data: rows.map((r, g) => ({x: g, y: [r[0], r[4]]})),
      backgroundColor: "#6e6e6e", borderWidth: 0, barPercentage: 1, maxBarThickness: 0.9
    }, common));
    datasets.push(Object.assign({
      label: name, order: 3,
      data: rows.map((r, g) => ({x: g, y: [r[1], r[3]]})),
      backgroundColor: methodColors[m], borderColor: "#333", borderWidth: 0.7,
      borderSkipped: false, barPercentage: 0.92
    }, common));
    datasets.push(Object.assign({
      label: name + " median", order: 2,
      data: rows.map((r, g) => ({x: g, y: [r[2], r[2]]})),
      backgroundColor: "#1a1a1a", borderWidth: 0, minBarLength: 1.4, barPercentage: 0.92
    }, common));
  });
  const n = methods.length;
  datasets.push({
    type: "scatter", label: "outliers", order: 1,
    data: p.out.map(([g, m, v]) => ({x: g + (m + 0.5 - n / 2) * GROUP_SPAN / n, y: v})),
    pointRadius: 1.1, pointBackgroundColor: "#333", pointBorderWidth: 0, clip: false
  });

  const yTicks = withMinor(p.ticks, p.min, p.max);
  const isMinor = (ctx) => ctx.tick && ctx.tick.minor;

  new Chart(canvas, {
    type: "bar",
    data: {datasets},
    plugins: [framePlugin],
    options: {
      responsive: false,
      animation: false,
      layout: {padding: {top: PAD_TOP, right: PAD_RIGHT, left: 0, bottom: 0}},
      plugins: {legend: {display: false}, tooltip: {enabled: false}},
      scales: {
        x: {
          type: "linear", min: -0.6, max: 3.6, offset: false,
          afterBuildTicks: (s) => { s.ticks = zeroProps.map((_, i) => ({value: i})); },
          afterFit: (s) => { s.height = xH; },
          ticks: {autoSkip: false, maxRotation: 0, padding: 1.5, color: "#4d4d4d",
                  font: {size: 9.5}, callback: (v) => zeroProps[v]},
          grid: {offset: false, color: "#ebebeb", lineWidth: 1, tickColor: "#333", tickLength: 3, tickWidth: 0.8},
          border: {display: false},
          title: {display: isBottom, text: "Proportion of zero counts", color: "#000",
                  font: {size: 10}, padding: {top: 0, bottom: 2}}
        },
        y: {
          min: p.min, max: p.max, stacked: false, beginAtZero: false,
          afterBuildTicks: (s) => { s.ticks = yTicks.map((t) => Object.assign({}, t)); },
          afterFit: (s) => { s.width = Y_AXIS_W; },
          ticks: {autoSkip: false, padding: 1.5, color: "#4d4d4d", font: {size: 9.5},
                  callback: (v, i, ticks) => (ticks[i].minor ? "" : v.toFixed(2))},
          grid: {
            color: (ctx) => (isMinor(ctx) ? "#f3f3f3" : "#e6e6e6"),
            lineWidth: (ctx) => (isMinor(ctx) ? 0.6 : 1),
            tickColor: (ctx) => (isMinor(ctx) ? "rgba(0,0,0,0)" : "#333"),
            tickLength: 3, tickWidth: 0.8
          },
          border: {display: false},
          title: {display: isMiddle, text: p.col === 0 ? "AUPRC" : "AUROC", color: "#000",
                  font: {size: 10}, padding: {top: p.col === 0 ? 7 : 9, bottom: 0}}
        }
      }
    }
  });

  if (p.strip) {
    const s = document.createElement("div");
    s.className = "strip";
    s.textContent = p.strip;
    s.style.left = (727 - 40) + "px";
    s.style.top = ((top + bottom) / 2 - 6) + "px";
    page.appendChild(s);
  }
}

function buildNetwork(left, top, width, height, nodes, edges, spanX, spanY) {
  const canvas = addCanvas(left, top, width, height);
  const datasets = edges.map(([a, b]) => ({
    data: [{x: nodes[a][0], y: nodes[a][1]}, {x: nodes[b][0], y: nodes[b][1]}],
    showLine: true, borderColor: "#5b8fd9", borderWidth: 3.2, borderCapStyle: "round",
    pointRadius: 0, order: 1, clip: false
  }));
  datasets.push({
    data: nodes.map(([x, y]) => ({x, y})),
    pointRadius: 4.4, pointBackgroundColor: "#fff", pointBorderColor: "#111", pointBorderWidth: 1.3,
    order: 0, clip: false
  });
  new Chart(canvas, {
    type: "scatter",
    data: {datasets},
    options: {
      responsive: false,
      animation: false,
      layout: {padding: 0},
      plugins: {legend: {display: false}, tooltip: {enabled: false}},
      scales: {
        x: {display: false, min: 0, max: spanX},
        y: {display: false, min: 0, max: spanY, reverse: true}
      }
    }
  });
}

buildNetwork(0, 0, 230, 300, powerLawNodes, powerLawEdges, 690, 900);
buildNetwork(0, 315, 230, 336, hubNodes, hubEdges, 690, 1008);
panels.forEach(buildBoxChart);

// legend
const legendX = [272, 340, 421, 488, 555, 637];
legendOrder.forEach((name, i) => {
  const key = document.createElement("div");
  key.className = "lk";
  key.style.left = legendX[i] + "px";
  const box = document.createElement("i");
  box.style.background = methodColors[methods.indexOf(name)];
  key.appendChild(box);
  page.appendChild(key);
  const t = document.createElement("div");
  t.className = "lt";
  t.style.left = (legendX[i] + 24) + "px";
  t.textContent = name;
  page.appendChild(t);
});
</script>
</body>
</html>
